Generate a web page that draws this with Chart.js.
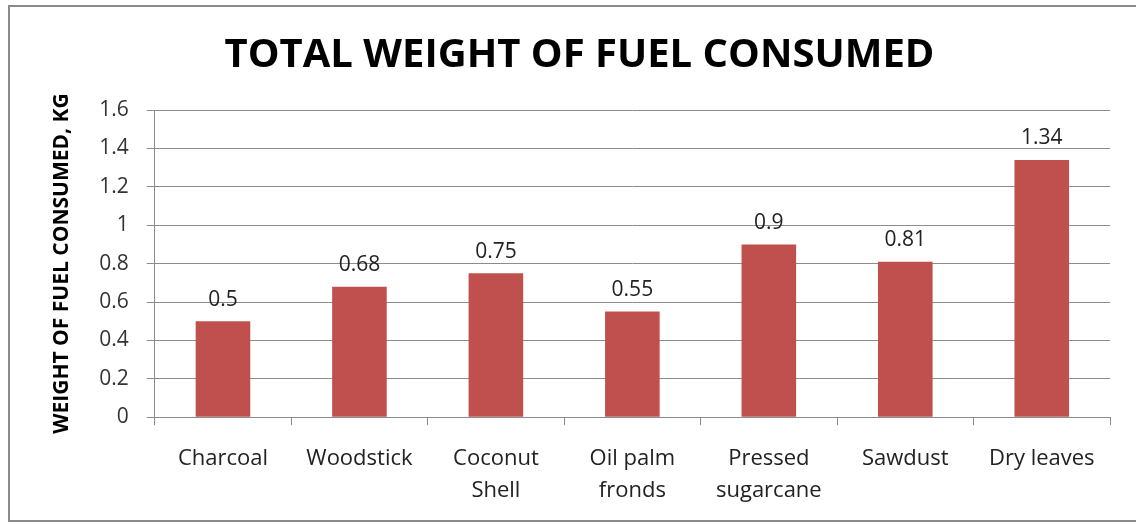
<!DOCTYPE html>
<html><head><meta charset="utf-8">
<script src="https://cdn.jsdelivr.net/npm/chart.js@4"></script>
<style>
html,body{margin:0;padding:0;background:#fff;}
#wrap{position:absolute;left:0;top:0;width:1136px;height:527px;}
#frame{position:absolute;left:8px;top:5px;width:1140px;height:517px;border:2px solid #8a8a8a;border-right:none;box-sizing:border-box;}
</style></head>
<body>
<div id="wrap"><div id="frame"></div><canvas id="c" width="1136" height="527"></canvas></div>
<script>
const categories = ['Charcoal','Woodstick',['Coconut','Shell'],['Oil palm','fronds'],['Pressed','sugarcane'],'Sawdust','Dry leaves'];
const weights = [0.5, 0.68, 0.75, 0.55, 0.9, 0.81, 1.34];
const valueLabels = ['0.5','0.68','0.75','0.55','0.9','0.81','1.34'];
const yTicks = [0,0.2,0.4,0.6,0.8,1,1.2,1.4,1.6];

const FONT = "'Open Sans', 'DejaVu Sans', sans-serif";

const labelPlugin = {
  id:'valueLabels',
  afterDatasetsDraw(chart){
    const ctx = chart.ctx;
    const meta = chart.getDatasetMeta(0);
    ctx.save();
    ctx.font = "21px " + FONT;
    ctx.fillStyle = '#222';
    ctx.textAlign = 'center';
    ctx.textBaseline = 'bottom';
    meta.data.forEach((bar,i)=>{
      ctx.fillText(valueLabels[i], bar.x, bar.y - 11);
    });
    ctx.restore();
  }
};

new Chart(document.getElementById('c'), {
  type:'bar',
  data:{labels:categories, datasets:[{data:weights, backgroundColor:'#C0504D', categoryPercentage:1, barPercentage:0.4}]},
  options:{
    responsive:false, animation:false, devicePixelRatio:1,
    layout:{padding:{left:49,right:26,top:12,bottom:2}},
    plugins:{
      legend:{display:false}, tooltip:{enabled:false},
      title:{display:true, text:'TOTAL WEIGHT OF FUEL CONSUMED', color:'#000', font:{family:FONT, size:40, weight:'bold'}, padding:{top:20,bottom:30}}
    },
    scales:{
      y:{min:0,max:1.6,
        afterBuildTicks(s){ s.ticks = yTicks.map(v=>({value:v})); },
        ticks:{color:'#333', font:{family:FONT,size:21}, padding:18, callback:(v)=>String(v)},
        grid:{color:'#8c8c8c', lineWidth:1, tickLength:8},
        border:{color:'#8c8c8c'},
        title:{display:true, text:'WEIGHT OF FUEL CONSUMED, KG', color:'#000', font:{family:FONT,size:21,weight:'bold'}, padding:{top:0,bottom:7}}
      },
      x:{
        ticks:{color:'#222', font:{family:FONT,size:22, lineHeight:1.45}, padding:18, maxRotation:0},
        grid:{display:true, drawOnChartArea:false, offset:true, color:'#8c8c8c', tickLength:8},
        border:{color:'#8c8c8c'}
      }
    }
  },
  plugins:[labelPlugin]
});
</script>
</body></html>
